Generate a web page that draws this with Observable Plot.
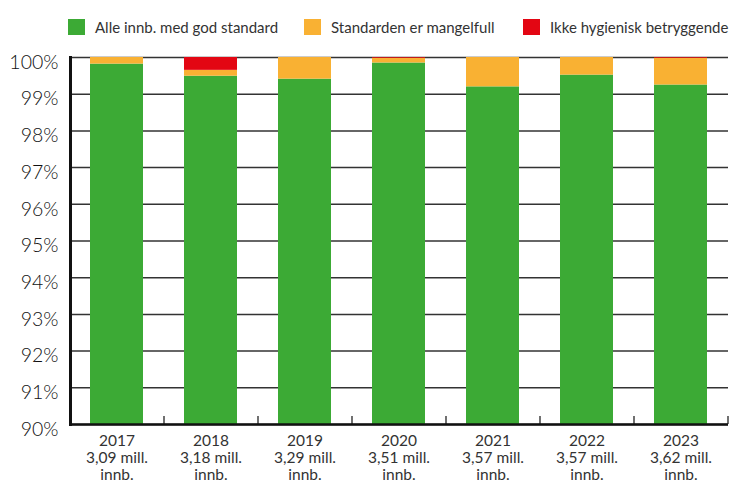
<!DOCTYPE html>
<html>
<head>
<meta charset="utf-8">
<script src="https://cdn.jsdelivr.net/npm/d3@7"></script>
<script src="https://cdn.jsdelivr.net/npm/@observablehq/plot@0.6"></script>
<style>
  html, body { margin: 0; padding: 0; background: #fff; }
  body { width: 730px; height: 486px; overflow: hidden; font-family: Lato, "Open Sans", sans-serif; }
  #legend { position: relative; height: 45px; width: 730px; }
  .item { position: absolute; top: 18px; display: flex; align-items: center; font-size: 15px; color: #333; white-space: nowrap; }
  .sw { width: 17px; height: 16px; margin-right: 10px; }
  #chart svg { display: block; }
</style>
</head>
<body>
<div id="legend"></div>
<div id="chart"></div>
<script>
const years = ["2017", "2018", "2019", "2020", "2021", "2022", "2023"];
const population = ["3,09", "3,18", "3,29", "3,51", "3,57", "3,57", "3,62"];
const categories = ["Alle innb. med god standard", "Standarden er mangelfull", "Ikke hygienisk betryggende"];
const colors = ["#3caa35", "#f9b133", "#e30613"];
const good = [99.82, 99.49, 99.41, 99.85, 99.20, 99.52, 99.25];
const poor = [0.18, 0.16, 0.59, 0.13, 0.80, 0.48, 0.73];
const unsafe = [0.00, 0.35, 0.00, 0.02, 0.00, 0.00, 0.02];
const yTicks = [90, 91, 92, 93, 94, 95, 96, 97, 98, 99, 100];

const series = [good, poor, unsafe];
const data = [];
years.forEach((y, i) => series.forEach((s, k) => data.push({year: y, cat: categories[k], value: s[i]})));

// legend
const legendX = [68, 304, 523];
const legend = document.getElementById("legend");
categories.forEach((c, i) => {
  const it = document.createElement("div");
  it.className = "item";
  it.style.left = legendX[i] + "px";
  it.innerHTML = `<div class="sw" style="background:${colors[i]}"></div><span>${c}</span>`;
  legend.appendChild(it);
});

const labelOf = new Map(years.map((y, i) => [y, `${y}\n${population[i]} mill.\ninnb.`]));

const chart = Plot.plot({
  width: 730,
  height: 441,
  marginTop: 12,
  marginBottom: 62,
  marginLeft: 70,
  marginRight: 2,
  style: {fontFamily: "Lato, 'Open Sans', sans-serif", color: "#333", background: "#fff"},
  x: {domain: years, paddingInner: 0.436, paddingOuter: 0.218, label: null},
  y: {domain: [90, 100], label: null},
  color: {domain: categories, range: colors},
  marks: [
    Plot.ruleY(yTicks, {stroke: "#333", strokeWidth: 1.5}),
    Plot.barY(data, Plot.stackY({x: "year", y: "value", fill: "cat", order: categories, clip: true})),
    Plot.ruleY([90], {stroke: "#111", strokeWidth: 2.5}),
    Plot.ruleX(years, {x: d => d, y1: 90, y2: 90.22, dx: 47, stroke: "#111", strokeWidth: 1.2}),
    Plot.frame({anchor: "left", stroke: "#111", strokeWidth: 3}),
    Plot.axisY({ticks: yTicks, tickSize: 0, tickPadding: 12, fontSize: 19.5, fontWeight: 300, dy: 5, tickFormat: d => d + "%", fill: "#111"}),
    Plot.axisX({tickSize: 0, tickPadding: 9, fontSize: 15.5, lineHeight: 1.1, tickFormat: d => labelOf.get(d), fill: "#333"})
  ]
});
document.getElementById("chart").appendChild(chart);
</script>
</body>
</html>
